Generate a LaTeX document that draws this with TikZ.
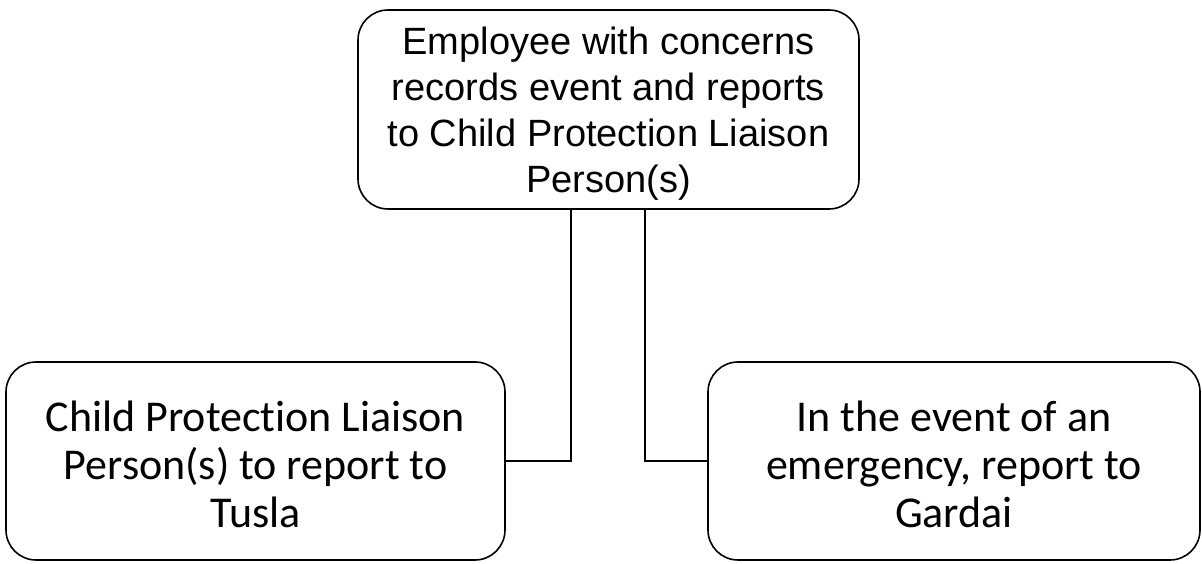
\documentclass[tikz,border=0pt]{standalone}
\usepackage{fontspec}
\setmainfont{Liberation Sans}
\newfontfamily\calfont[Ligatures=NoCommon]{Carlito}
\begin{document}
\begin{tikzpicture}[x=1pt,y=1pt,
  box/.style={draw=black,line width=1.6pt,rounded corners=30pt,inner sep=0pt},
  txt/.style={inner sep=0pt,align=center},
  link/.style={draw=black,line width=1.6pt}]
\useasboundingbox (0,0) rectangle (1202,564);
\node[box,minimum width=501pt,minimum height=199pt] (top) at (608.5,454.5) {};
\node[txt,font=\fontsize{38}{46}\selectfont] (toptxt) at ([yshift=-4pt]top.center)
  {Employee with concerns\\records event and reports\\to Child Protection Liaison\\Person(s)};
\node[box,minimum width=499pt,minimum height=198pt] (left) at (255.5,103) {};
\node[txt,font=\calfont\fontsize{44}{48}\selectfont] (lefttxt) at ([yshift=-3pt]left.center)
  {Child Protection Liaison\\Person(s) to report to\\Tusla};
\node[box,minimum width=492pt,minimum height=198pt] (right) at (954,103) {};
\node[txt,font=\calfont\fontsize{44}{48}\selectfont] (righttxt) at ([yshift=-3pt]right.center)
  {In the event of an\\emergency, report to\\Gardai};
\coordinate (c1) at (571,0);
\coordinate (c2) at (645,0);
\draw[link] (top.south -| c1) |- (left.east);
\draw[link] (top.south -| c2) |- (right.west);
\end{tikzpicture}
\end{document}
